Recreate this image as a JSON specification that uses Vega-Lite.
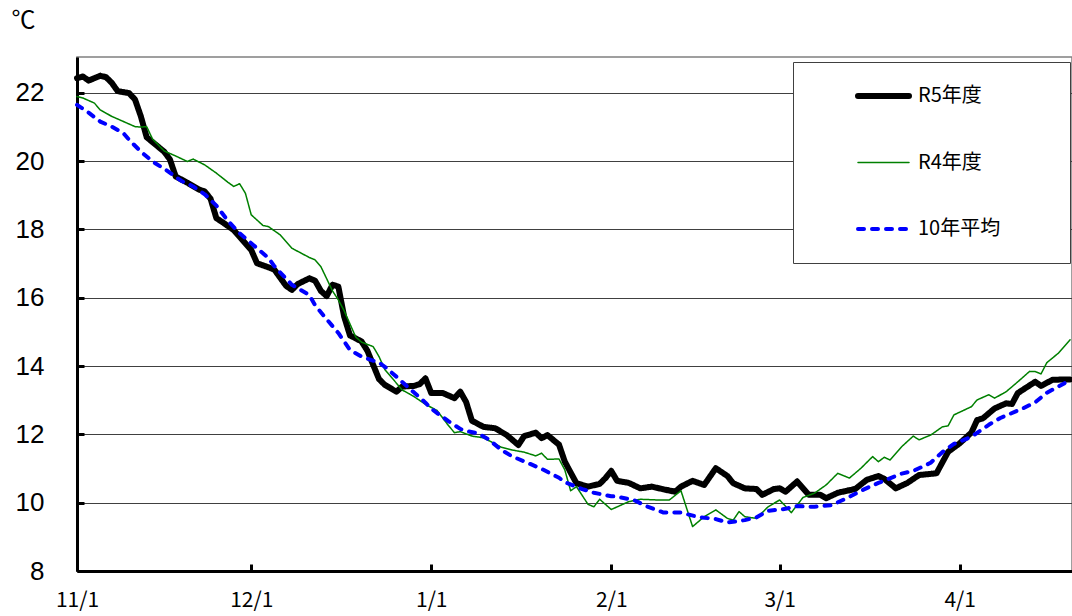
{
  "$schema": "https://vega.github.io/schema/vega-lite/v6.json",
  "width": 995,
  "height": 514,
  "autosize": {"type": "none"},
  "padding": {"left": 77, "top": 57, "right": 0, "bottom": 45},
  "background": "white",
  "config": {"view": {"stroke": "#808080", "strokeWidth": 1.5}},
  "data": {"values": [
{"series":"R5年度","date":"2023-11-01","temp":22.43},{"series":"R5年度","date":"2023-11-02","temp":22.48},{"series":"R5年度","date":"2023-11-03","temp":22.36},{"series":"R5年度","date":"2023-11-05","temp":22.50},{"series":"R5年度","date":"2023-11-06","temp":22.46},{"series":"R5年度","date":"2023-11-07","temp":22.29},{"series":"R5年度","date":"2023-11-08","temp":22.05},{"series":"R5年度","date":"2023-11-10","temp":21.99},{"series":"R5年度","date":"2023-11-11","temp":21.80},{"series":"R5年度","date":"2023-11-12","temp":21.31},{"series":"R5年度","date":"2023-11-13","temp":20.70},{"series":"R5年度","date":"2023-11-15","temp":20.42},{"series":"R5年度","date":"2023-11-16","temp":20.28},{"series":"R5年度","date":"2023-11-17","temp":20.05},{"series":"R5年度","date":"2023-11-18","temp":19.55},{"series":"R5年度","date":"2023-11-20","temp":19.37},{"series":"R5年度","date":"2023-11-22","temp":19.17},{"series":"R5年度","date":"2023-11-23","temp":19.11},{"series":"R5年度","date":"2023-11-24","temp":18.90},{"series":"R5年度","date":"2023-11-25","temp":18.33},{"series":"R5年度","date":"2023-11-26","temp":18.22},{"series":"R5年度","date":"2023-11-28","temp":17.98},{"series":"R5年度","date":"2023-11-29","temp":17.79},{"series":"R5年度","date":"2023-12-01","temp":17.40},{"series":"R5年度","date":"2023-12-02","temp":17.01},{"series":"R5年度","date":"2023-12-04","temp":16.89},{"series":"R5年度","date":"2023-12-05","temp":16.82},{"series":"R5年度","date":"2023-12-07","temp":16.35},{"series":"R5年度","date":"2023-12-08","temp":16.23},{"series":"R5年度","date":"2023-12-09","temp":16.40},{"series":"R5年度","date":"2023-12-11","temp":16.57},{"series":"R5年度","date":"2023-12-12","temp":16.50},{"series":"R5年度","date":"2023-12-13","temp":16.20},{"series":"R5年度","date":"2023-12-14","temp":16.05},{"series":"R5年度","date":"2023-12-15","temp":16.38},{"series":"R5年度","date":"2023-12-16","temp":16.33},{"series":"R5年度","date":"2023-12-17","temp":15.45},{"series":"R5年度","date":"2023-12-18","temp":14.90},{"series":"R5年度","date":"2023-12-20","temp":14.72},{"series":"R5年度","date":"2023-12-21","temp":14.45},{"series":"R5年度","date":"2023-12-23","temp":13.62},{"series":"R5年度","date":"2023-12-24","temp":13.45},{"series":"R5年度","date":"2023-12-26","temp":13.25},{"series":"R5年度","date":"2023-12-27","temp":13.40},{"series":"R5年度","date":"2023-12-29","temp":13.42},{"series":"R5年度","date":"2023-12-30","temp":13.47},{"series":"R5年度","date":"2023-12-31","temp":13.64},{"series":"R5年度","date":"2024-01-01","temp":13.21},{"series":"R5年度","date":"2024-01-03","temp":13.21},{"series":"R5年度","date":"2024-01-05","temp":13.06},{"series":"R5年度","date":"2024-01-06","temp":13.25},{"series":"R5年度","date":"2024-01-07","temp":12.95},{"series":"R5年度","date":"2024-01-08","temp":12.40},{"series":"R5年度","date":"2024-01-10","temp":12.22},{"series":"R5年度","date":"2024-01-12","temp":12.18},{"series":"R5年度","date":"2024-01-14","temp":11.98},{"series":"R5年度","date":"2024-01-16","temp":11.69},{"series":"R5年度","date":"2024-01-17","temp":11.95},{"series":"R5年度","date":"2024-01-19","temp":12.05},{"series":"R5年度","date":"2024-01-20","temp":11.89},{"series":"R5年度","date":"2024-01-21","temp":11.98},{"series":"R5年度","date":"2024-01-23","temp":11.70},{"series":"R5年度","date":"2024-01-24","temp":11.20},{"series":"R5年度","date":"2024-01-26","temp":10.57},{"series":"R5年度","date":"2024-01-28","temp":10.47},{"series":"R5年度","date":"2024-01-30","temp":10.55},{"series":"R5年度","date":"2024-01-31","temp":10.72},{"series":"R5年度","date":"2024-02-01","temp":10.93},{"series":"R5年度","date":"2024-02-02","temp":10.64},{"series":"R5年度","date":"2024-02-04","temp":10.58},{"series":"R5年度","date":"2024-02-06","temp":10.42},{"series":"R5年度","date":"2024-02-08","temp":10.47},{"series":"R5年度","date":"2024-02-10","temp":10.39},{"series":"R5年度","date":"2024-02-12","temp":10.32},{"series":"R5年度","date":"2024-02-13","temp":10.47},{"series":"R5年度","date":"2024-02-15","temp":10.64},{"series":"R5年度","date":"2024-02-17","temp":10.52},{"series":"R5年度","date":"2024-02-19","temp":11.01},{"series":"R5年度","date":"2024-02-21","temp":10.78},{"series":"R5年度","date":"2024-02-22","temp":10.57},{"series":"R5年度","date":"2024-02-24","temp":10.42},{"series":"R5年度","date":"2024-02-26","temp":10.40},{"series":"R5年度","date":"2024-02-27","temp":10.23},{"series":"R5年度","date":"2024-02-29","temp":10.40},{"series":"R5年度","date":"2024-03-01","temp":10.42},{"series":"R5年度","date":"2024-03-02","temp":10.32},{"series":"R5年度","date":"2024-03-04","temp":10.62},{"series":"R5年度","date":"2024-03-06","temp":10.23},{"series":"R5年度","date":"2024-03-08","temp":10.23},{"series":"R5年度","date":"2024-03-09","temp":10.13},{"series":"R5年度","date":"2024-03-11","temp":10.29},{"series":"R5年度","date":"2024-03-14","temp":10.40},{"series":"R5年度","date":"2024-03-16","temp":10.67},{"series":"R5年度","date":"2024-03-18","temp":10.78},{"series":"R5年度","date":"2024-03-19","temp":10.70},{"series":"R5年度","date":"2024-03-21","temp":10.42},{"series":"R5年度","date":"2024-03-23","temp":10.58},{"series":"R5年度","date":"2024-03-25","temp":10.81},{"series":"R5年度","date":"2024-03-28","temp":10.86},{"series":"R5年度","date":"2024-03-30","temp":11.49},{"series":"R5年度","date":"2024-04-01","temp":11.74},{"series":"R5年度","date":"2024-04-03","temp":12.05},{"series":"R5年度","date":"2024-04-04","temp":12.42},{"series":"R5年度","date":"2024-04-05","temp":12.47},{"series":"R5年度","date":"2024-04-07","temp":12.76},{"series":"R5年度","date":"2024-04-09","temp":12.91},{"series":"R5年度","date":"2024-04-10","temp":12.89},{"series":"R5年度","date":"2024-04-11","temp":13.21},{"series":"R5年度","date":"2024-04-14","temp":13.54},{"series":"R5年度","date":"2024-04-15","temp":13.42},{"series":"R5年度","date":"2024-04-17","temp":13.60},{"series":"R5年度","date":"2024-04-20","temp":13.61},
{"series":"R4年度","date":"2023-11-01","temp":21.89},{"series":"R4年度","date":"2023-11-02","temp":21.85},{"series":"R4年度","date":"2023-11-04","temp":21.70},{"series":"R4年度","date":"2023-11-05","temp":21.50},{"series":"R4年度","date":"2023-11-07","temp":21.31},{"series":"R4年度","date":"2023-11-09","temp":21.16},{"series":"R4年度","date":"2023-11-11","temp":21.01},{"series":"R4年度","date":"2023-11-12","temp":21.00},{"series":"R4年度","date":"2023-11-13","temp":21.01},{"series":"R4年度","date":"2023-11-14","temp":20.65},{"series":"R4年度","date":"2023-11-16","temp":20.30},{"series":"R4年度","date":"2023-11-18","temp":20.15},{"series":"R4年度","date":"2023-11-20","temp":19.99},{"series":"R4年度","date":"2023-11-21","temp":20.06},{"series":"R4年度","date":"2023-11-23","temp":19.89},{"series":"R4年度","date":"2023-11-25","temp":19.65},{"series":"R4年度","date":"2023-11-27","temp":19.38},{"series":"R4年度","date":"2023-11-28","temp":19.26},{"series":"R4年度","date":"2023-11-29","temp":19.34},{"series":"R4年度","date":"2023-11-30","temp":19.06},{"series":"R4年度","date":"2023-12-01","temp":18.43},{"series":"R4年度","date":"2023-12-03","temp":18.12},{"series":"R4年度","date":"2023-12-04","temp":18.08},{"series":"R4年度","date":"2023-12-06","temp":17.84},{"series":"R4年度","date":"2023-12-08","temp":17.45},{"series":"R4年度","date":"2023-12-11","temp":17.18},{"series":"R4年度","date":"2023-12-12","temp":17.11},{"series":"R4年度","date":"2023-12-13","temp":16.91},{"series":"R4年度","date":"2023-12-15","temp":16.20},{"series":"R4年度","date":"2023-12-16","temp":15.94},{"series":"R4年度","date":"2023-12-17","temp":15.62},{"series":"R4年度","date":"2023-12-19","temp":14.85},{"series":"R4年度","date":"2023-12-20","temp":14.70},{"series":"R4年度","date":"2023-12-22","temp":14.57},{"series":"R4年度","date":"2023-12-23","temp":14.28},{"series":"R4年度","date":"2023-12-24","temp":13.90},{"series":"R4年度","date":"2023-12-27","temp":13.30},{"series":"R4年度","date":"2023-12-29","temp":13.11},{"series":"R4年度","date":"2023-12-31","temp":12.88},{"series":"R4年度","date":"2024-01-02","temp":12.70},{"series":"R4年度","date":"2024-01-04","temp":12.25},{"series":"R4年度","date":"2024-01-05","temp":12.05},{"series":"R4年度","date":"2024-01-06","temp":12.08},{"series":"R4年度","date":"2024-01-08","temp":11.95},{"series":"R4年度","date":"2024-01-10","temp":11.90},{"series":"R4年度","date":"2024-01-13","temp":11.63},{"series":"R4年度","date":"2024-01-15","temp":11.54},{"series":"R4年度","date":"2024-01-17","temp":11.48},{"series":"R4年度","date":"2024-01-19","temp":11.37},{"series":"R4年度","date":"2024-01-20","temp":11.45},{"series":"R4年度","date":"2024-01-21","temp":11.27},{"series":"R4年度","date":"2024-01-23","temp":11.28},{"series":"R4年度","date":"2024-01-24","temp":10.96},{"series":"R4年度","date":"2024-01-25","temp":10.35},{"series":"R4年度","date":"2024-01-26","temp":10.47},{"series":"R4年度","date":"2024-01-28","temp":9.95},{"series":"R4年度","date":"2024-01-29","temp":9.88},{"series":"R4年度","date":"2024-01-30","temp":10.10},{"series":"R4年度","date":"2024-02-01","temp":9.80},{"series":"R4年度","date":"2024-02-04","temp":10.03},{"series":"R4年度","date":"2024-02-06","temp":10.10},{"series":"R4年度","date":"2024-02-09","temp":10.08},{"series":"R4年度","date":"2024-02-11","temp":10.08},{"series":"R4年度","date":"2024-02-13","temp":10.35},{"series":"R4年度","date":"2024-02-15","temp":9.30},{"series":"R4年度","date":"2024-02-17","temp":9.59},{"series":"R4年度","date":"2024-02-19","temp":9.79},{"series":"R4年度","date":"2024-02-21","temp":9.54},{"series":"R4年度","date":"2024-02-22","temp":9.49},{"series":"R4年度","date":"2024-02-23","temp":9.74},{"series":"R4年度","date":"2024-02-24","temp":9.59},{"series":"R4年度","date":"2024-02-26","temp":9.54},{"series":"R4年度","date":"2024-02-28","temp":9.88},{"series":"R4年度","date":"2024-03-01","temp":10.08},{"series":"R4年度","date":"2024-03-03","temp":9.71},{"series":"R4年度","date":"2024-03-05","temp":10.15},{"series":"R4年度","date":"2024-03-07","temp":10.28},{"series":"R4年度","date":"2024-03-09","temp":10.52},{"series":"R4年度","date":"2024-03-11","temp":10.86},{"series":"R4年度","date":"2024-03-13","temp":10.72},{"series":"R4年度","date":"2024-03-15","temp":11.01},{"series":"R4年度","date":"2024-03-17","temp":11.35},{"series":"R4年度","date":"2024-03-18","temp":11.20},{"series":"R4年度","date":"2024-03-19","temp":11.33},{"series":"R4年度","date":"2024-03-20","temp":11.25},{"series":"R4年度","date":"2024-03-22","temp":11.64},{"series":"R4年度","date":"2024-03-24","temp":11.95},{"series":"R4年度","date":"2024-03-25","temp":11.84},{"series":"R4年度","date":"2024-03-27","temp":11.98},{"series":"R4年度","date":"2024-03-29","temp":12.22},{"series":"R4年度","date":"2024-03-30","temp":12.25},{"series":"R4年度","date":"2024-03-31","temp":12.57},{"series":"R4年度","date":"2024-04-03","temp":12.81},{"series":"R4年度","date":"2024-04-04","temp":13.01},{"series":"R4年度","date":"2024-04-06","temp":13.16},{"series":"R4年度","date":"2024-04-07","temp":13.06},{"series":"R4年度","date":"2024-04-09","temp":13.25},{"series":"R4年度","date":"2024-04-11","temp":13.54},{"series":"R4年度","date":"2024-04-13","temp":13.84},{"series":"R4年度","date":"2024-04-14","temp":13.84},{"series":"R4年度","date":"2024-04-15","temp":13.77},{"series":"R4年度","date":"2024-04-16","temp":14.10},{"series":"R4年度","date":"2024-04-18","temp":14.38},{"series":"R4年度","date":"2024-04-20","temp":14.77},
{"series":"10年平均","date":"2023-11-01","temp":21.65},{"series":"10年平均","date":"2023-11-03","temp":21.42},{"series":"10年平均","date":"2023-11-05","temp":21.16},{"series":"10年平均","date":"2023-11-07","temp":21.01},{"series":"10年平均","date":"2023-11-09","temp":20.82},{"series":"10年平均","date":"2023-11-10","temp":20.62},{"series":"10年平均","date":"2023-11-12","temp":20.28},{"series":"10年平均","date":"2023-11-14","temp":19.99},{"series":"10年平均","date":"2023-11-16","temp":19.78},{"series":"10年平均","date":"2023-11-19","temp":19.42},{"series":"10年平均","date":"2023-11-21","temp":19.26},{"series":"10年平均","date":"2023-11-23","temp":19.03},{"series":"10年平均","date":"2023-11-25","temp":18.70},{"series":"10年平均","date":"2023-11-27","temp":18.25},{"series":"10年平均","date":"2023-11-29","temp":17.89},{"series":"10年平均","date":"2023-12-02","temp":17.45},{"series":"10年平均","date":"2023-12-04","temp":17.16},{"series":"10年平均","date":"2023-12-05","temp":16.92},{"series":"10年平均","date":"2023-12-08","temp":16.38},{"series":"10年平均","date":"2023-12-11","temp":16.08},{"series":"10年平均","date":"2023-12-12","temp":15.78},{"series":"10年平均","date":"2023-12-14","temp":15.37},{"series":"10年平均","date":"2023-12-16","temp":14.97},{"series":"10年平均","date":"2023-12-18","temp":14.47},{"series":"10年平均","date":"2023-12-20","temp":14.28},{"series":"10年平均","date":"2023-12-23","temp":14.10},{"series":"10年平均","date":"2023-12-24","temp":13.98},{"series":"10年平均","date":"2023-12-26","temp":13.69},{"series":"10年平均","date":"2023-12-28","temp":13.38},{"series":"10年平均","date":"2023-12-31","temp":12.93},{"series":"10年平均","date":"2024-01-01","temp":12.75},{"series":"10年平均","date":"2024-01-04","temp":12.38},{"series":"10年平均","date":"2024-01-06","temp":12.16},{"series":"10年平均","date":"2024-01-07","temp":12.10},{"series":"10年平均","date":"2024-01-09","temp":12.03},{"series":"10年平均","date":"2024-01-11","temp":11.84},{"series":"10年平均","date":"2024-01-13","temp":11.55},{"series":"10年平均","date":"2024-01-15","temp":11.35},{"series":"10年平均","date":"2024-01-17","temp":11.21},{"series":"10年平均","date":"2024-01-20","temp":10.99},{"series":"10年平均","date":"2024-01-23","temp":10.73},{"series":"10年平均","date":"2024-01-24","temp":10.60},{"series":"10年平均","date":"2024-01-27","temp":10.40},{"series":"10年平均","date":"2024-01-29","temp":10.29},{"series":"10年平均","date":"2024-02-01","temp":10.19},{"series":"10年平均","date":"2024-02-02","temp":10.18},{"series":"10年平均","date":"2024-02-05","temp":10.07},{"series":"10年平均","date":"2024-02-07","temp":9.90},{"series":"10年平均","date":"2024-02-10","temp":9.71},{"series":"10年平均","date":"2024-02-13","temp":9.71},{"series":"10年平均","date":"2024-02-16","temp":9.58},{"series":"10年平均","date":"2024-02-19","temp":9.52},{"series":"10年平均","date":"2024-02-21","temp":9.42},{"series":"10年平均","date":"2024-02-24","temp":9.49},{"series":"10年平均","date":"2024-02-26","temp":9.57},{"series":"10年平均","date":"2024-02-28","temp":9.76},{"series":"10年平均","date":"2024-03-02","temp":9.82},{"series":"10年平均","date":"2024-03-04","temp":9.90},{"series":"10年平均","date":"2024-03-07","temp":9.88},{"series":"10年平均","date":"2024-03-10","temp":9.93},{"series":"10年平均","date":"2024-03-13","temp":10.17},{"series":"10年平均","date":"2024-03-15","temp":10.35},{"series":"10年平均","date":"2024-03-18","temp":10.58},{"series":"10年平均","date":"2024-03-22","temp":10.85},{"series":"10年平均","date":"2024-03-24","temp":10.93},{"series":"10年平均","date":"2024-03-27","temp":11.17},{"series":"10年平均","date":"2024-03-29","temp":11.48},{"series":"10年平均","date":"2024-03-31","temp":11.72},{"series":"10年平均","date":"2024-04-03","temp":11.93},{"series":"10年平均","date":"2024-04-06","temp":12.28},{"series":"10年平均","date":"2024-04-08","temp":12.48},{"series":"10年平均","date":"2024-04-12","temp":12.77},{"series":"10年平均","date":"2024-04-14","temp":12.94},{"series":"10年平均","date":"2024-04-16","temp":13.22},{"series":"10年平均","date":"2024-04-18","temp":13.40},{"series":"10年平均","date":"2024-04-20","temp":13.59}
  ]},
  "encoding": {
    "x": {
      "field": "date",
      "type": "temporal",
      "scale": {
        "type": "utc",
        "domain": [
          {"year": 2023, "month": 11, "date": 1, "utc": true},
          {"year": 2024, "month": 4, "date": 20, "hours": 8, "utc": true}
        ]
      },
      "axis": {
        "title": null,
        "values": [
          {"year": 2023, "month": 11, "date": 1, "utc": true},
          {"year": 2023, "month": 12, "date": 1, "utc": true},
          {"year": 2024, "month": 1, "date": 1, "utc": true},
          {"year": 2024, "month": 2, "date": 1, "utc": true},
          {"year": 2024, "month": 3, "date": 1, "utc": true},
          {"year": 2024, "month": 4, "date": 1, "utc": true}
        ],
        "labelExpr": "utcFormat(datum.value, '%-m/%-d')",
        "grid": false,
        "domainColor": "black",
        "domainWidth": 3,
        "tickColor": "black",
        "tickWidth": 3,
        "tickSize": -7,
        "labelFont": "Noto Sans CJK JP",
        "labelFontSize": 21,
        "labelColor": "black",
        "labelPadding": 36,
        "labelBaseline": "middle",
        "labelFlush": false,
        "labelOverlap": false
      }
    },
    "y": {
      "field": "temp",
      "type": "quantitative",
      "scale": {"domain": [8, 23.05], "nice": false, "zero": false},
      "axis": {
        "values": [8, 10, 12, 14, 16, 18, 20, 22],
        "grid": true,
        "gridColor": "#404040",
        "gridWidth": 1,
        "domainColor": "black",
        "domainWidth": 3,
        "tickColor": "black",
        "tickWidth": 3,
        "tickSize": -7,
        "labelFont": "Liberation Sans",
        "labelFontSize": 26,
        "labelColor": "black",
        "labelPadding": 40,
        "title": "℃",
        "titleAngle": 0,
        "titleX": -66,
        "titleY": -37,
        "titleAlign": "left",
        "titleBaseline": "middle",
        "titleFont": "Noto Sans CJK JP",
        "titleFontSize": 24,
        "titleFontWeight": "normal",
        "titleColor": "black"
      }
    },
    "color": {
      "field": "series",
      "type": "nominal",
      "scale": {"domain": ["R5年度", "R4年度", "10年平均"], "range": ["#000000", "#008000", "#0000ff"]},
      "legend": {
        "orient": "none",
        "legendX": 716,
        "legendY": 5,
        "title": "凡例",
        "titleOrient": "right",
        "titleOpacity": 0,
        "titleFontSize": 22,
        "titleFont": "Noto Sans CJK JP",
        "titlePadding": 5,
        "direction": "vertical",
        "fillColor": "white",
        "strokeColor": "#404040",
        "padding": 20,
        "symbolType": "stroke",
        "symbolSize": 2601,
        "symbolOffset": 42,
        "labelOffset": 6,
        "clipHeight": 28,
        "rowPadding": 38.5,
        "labelFont": "Noto Sans CJK JP",
        "labelFontSize": 20,
        "labelColor": "black",
        "labelLimit": 400,
        "encode": {"symbols": {"update": {"strokeCap": {"value": "round"}}}}
      }
    },
    "strokeWidth": {
      "field": "series",
      "type": "nominal",
      "scale": {"type": "ordinal", "domain": ["R5年度", "R4年度", "10年平均"], "range": [6, 1.5, 4]}
    },
    "strokeDash": {
      "field": "series",
      "type": "nominal",
      "scale": {"domain": ["R5年度", "R4年度", "10年平均"], "range": [[1, 0], [1, 0], [6, 8]]}
    }
  },
  "layer": [
    {
      "transform": [{"filter": "datum.series === 'R5年度'"}],
      "mark": {"type": "line", "strokeCap": "round", "strokeJoin": "round"}
    },
    {
      "transform": [{"filter": "datum.series === 'R4年度'"}],
      "mark": {"type": "line", "strokeCap": "round", "strokeJoin": "round"}
    },
    {
      "transform": [{"filter": "datum.series === '10年平均'"}],
      "mark": {"type": "line", "strokeCap": "round", "strokeJoin": "round"}
    }
  ]
}
